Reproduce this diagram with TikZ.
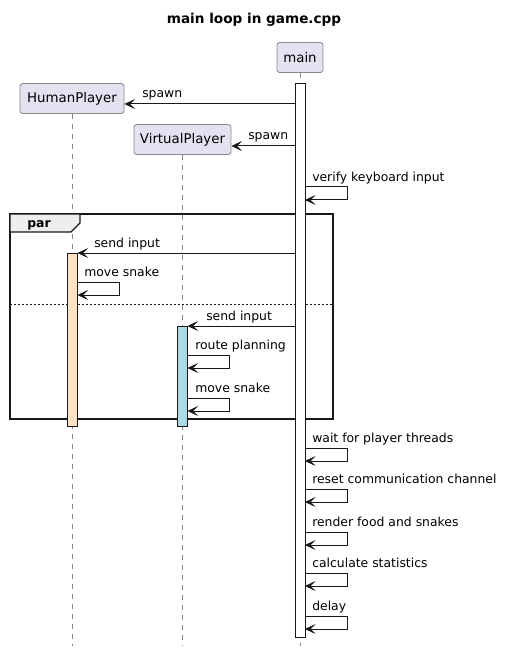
\documentclass[tikz,border=0pt]{standalone}
\usepackage{fontspec}
\setmainfont{DejaVu Sans}
\usetikzlibrary{arrows.meta}
\definecolor{partfill}{HTML}{E2E2F0}
\definecolor{ink}{HTML}{181818}
\definecolor{partline}{HTML}{8A8A8A}
\definecolor{humfill}{HTML}{FFE4C4}
\definecolor{virfill}{HTML}{ADD8E6}
\definecolor{grpfill}{HTML}{EEEEEE}
\begin{document}
\begin{tikzpicture}[x=0.75pt,y=-0.75pt,
  part/.style={draw=partline, fill=partfill, rounded corners=2pt, line width=0.6pt,
    inner sep=0pt, minimum height=22.5pt, font=\fontsize{10}{12}\selectfont},
  life/.style={draw=partline, line width=0.6pt, dash pattern=on 3.75pt off 3.75pt},
  actbar/.style={draw=ink, line width=0.75pt},
  msg/.style={draw=ink, line width=0.75pt, -{Stealth[length=8pt,width=7.5pt,inset=3.8pt,line width=0.4pt]}},
  lbl/.style={anchor=base west, inner sep=0pt, font=\fontsize{9.3}{11}\selectfont, text=black},
  grp/.style={draw=ink, line width=1.1pt},
  sep/.style={draw=ink, line width=0.6pt, dash pattern=on 1.5pt off 1.5pt}]
\useasboundingbox[fill=white] (0,0) rectangle (508,652);

\node[font=\bfseries\fontsize{10.2}{12}\selectfont] (title) at (254,20) {main loop in game.cpp};

% participants
\node[part, minimum width=34.5pt] (main) at (300,57.5) {main};
\node[part, minimum width=78pt] (hp) at (72,98.5) {HumanPlayer};
\node[part, minimum width=72.75pt] (vp) at (182.5,139.5) {VirtualPlayer};

% lifelines
\coordinate (mainEnd) at (300,646);
\coordinate (hpEnd) at (72,646);
\coordinate (vpEnd) at (182.5,646);
\draw[life] (main.south) -- (mainEnd);
\draw[life] (hp.south) -- (hpEnd);
\draw[life] (vp.south) -- (vpEnd);

% par group
\coordinate (g1) at (10,214);
\coordinate (g2) at (333,419);
\draw[grp] (g1) rectangle (g2);
\draw[ink, fill=grpfill, line width=0.9pt] (10,214) -- (80,214) -- (80,223) -- (71,232) -- (10,232) -- cycle;
\node[anchor=base west, inner sep=0pt, font=\bfseries\fontsize{9.3}{11}\selectfont] (par) at (27,227.5) {par};
\coordinate (s1) at (10,304);
\coordinate (s2) at (333,304);
\draw[sep] (s1) -- (s2);

% activation bars
\draw[actbar, fill=white] (295,84) rectangle (305,637);
\draw[actbar, fill=humfill] (67,253) rectangle (77.5,426);
\draw[actbar, fill=virfill] (177,326) rectangle (187.5,426);

% spawn messages
\coordinate (sp1) at (295,104);
\draw[msg] (sp1) -- (hp.east |- sp1);
\node[lbl] at (142,98) {spawn};
\coordinate (sp2) at (295,146);
\draw[msg] (sp2) -- (vp.east |- sp2);
\node[lbl] at (248,140) {spawn};

% self messages on main
\foreach \ya/\yb/\txt in {187/200/verify keyboard input,
                          448/461/wait for player threads,
                          489/502/reset communication channel,
                          532/545/render food and snakes,
                          573/586/calculate statistics,
                          616/629/delay}{
  \coordinate (a) at (305,\ya);
  \coordinate (b) at (305,\yb);
  \draw[msg] (a) -- ++(42,0) |- (b);
  \node[lbl] at (312,\ya-6) {\txt};
}

% send input to HumanPlayer
\coordinate (si1) at (295,253);
\coordinate (si1e) at (77.5,253);
\draw[msg] (si1) -- (si1e);
\node[lbl] at (94,247) {send input};
\coordinate (ms1a) at (77.5,282);
\coordinate (ms1b) at (77.5,295);
\draw[msg] (ms1a) -- ++(41.5,0) |- (ms1b);
\node[lbl] at (84,276) {move snake};

% send input to VirtualPlayer
\coordinate (si2) at (295,326);
\coordinate (si2e) at (187.5,326);
\draw[msg] (si2) -- (si2e);
\node[lbl] at (206,320) {send input};
\coordinate (rpa) at (187.5,355);
\coordinate (rpb) at (187.5,368);
\draw[msg] (rpa) -- ++(41.5,0) |- (rpb);
\node[lbl] at (195,349) {route planning};
\coordinate (ms2a) at (187.5,398);
\coordinate (ms2b) at (187.5,411);
\draw[msg] (ms2a) -- ++(41.5,0) |- (ms2b);
\node[lbl] at (195,392) {move snake};
\end{tikzpicture}
\end{document}
